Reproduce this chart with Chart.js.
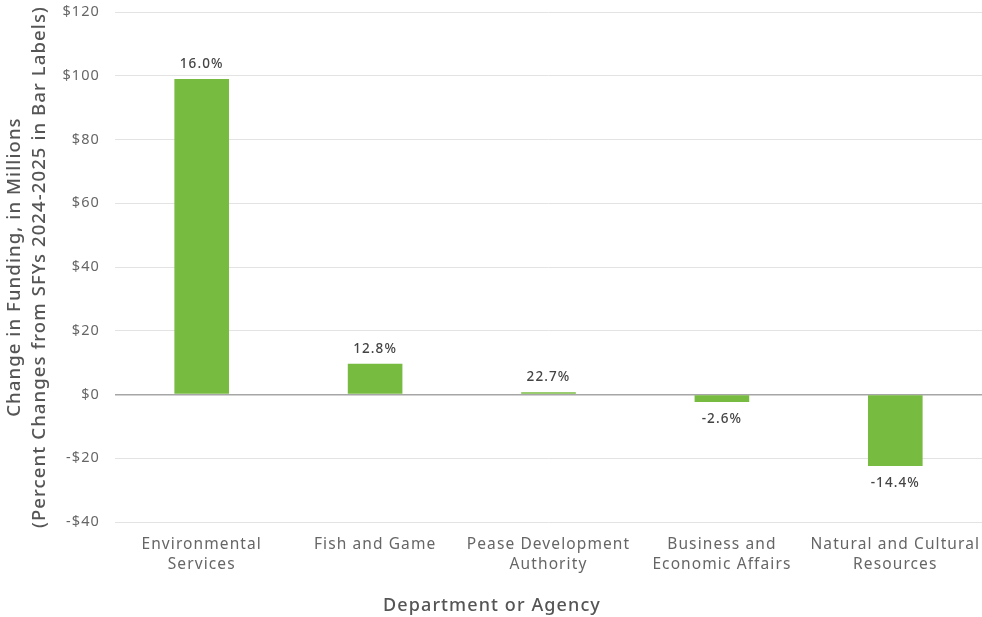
<!DOCTYPE html>
<html>
<head>
<meta charset="utf-8">
<script src="https://cdn.jsdelivr.net/npm/chart.js@4/dist/chart.umd.min.js"></script>
<style>
  html, body { margin: 0; padding: 0; background: #fff; }
  #wrap { width: 982px; height: 617px; position: relative; }
</style>
</head>
<body>
<div id="wrap"><canvas id="c" width="982" height="617"></canvas></div>
<script>
const categories = [
  ["Environmental", "Services"],
  ["Fish and Game"],
  ["Pease Development", "Authority"],
  ["Business and", "Economic Affairs"],
  ["Natural and Cultural", "Resources"]
];
const changeMillions = [99.0, 9.7, 0.7, -2.3, -22.4];
const percentLabels = ["16.0%", "12.8%", "22.7%", "-2.6%", "-14.4%"];
const yTicks = [-40, -20, 0, 20, 40, 60, 80, 100, 120];

const FONT = "'Noto Sans', 'Open Sans', sans-serif";
const SPACING = '1.1px';

const spacingPlugin = {
  id: 'spacing',
  beforeLayout(chart) { chart.ctx.letterSpacing = SPACING; },
  beforeDraw(chart) { chart.ctx.letterSpacing = SPACING; }
};

const barLabelPlugin = {
  id: 'barLabels',
  afterDatasetsDraw(chart) {
    const ctx = chart.ctx;
    const meta = chart.getDatasetMeta(0);
    ctx.save();
    ctx.letterSpacing = SPACING;
    ctx.font = "500 13.5px " + FONT;
    ctx.fillStyle = "#444";
    ctx.textAlign = "center";
    meta.data.forEach((bar, i) => {
      const v = changeMillions[i];
      if (v >= 0) {
        ctx.textBaseline = "bottom";
        ctx.fillText(percentLabels[i], bar.x, bar.y - 8);
      } else {
        ctx.textBaseline = "top";
        ctx.fillText(percentLabels[i], bar.x, bar.y + 10);
      }
    });
    ctx.restore();
  }
};

new Chart(document.getElementById('c'), {
  type: 'bar',
  data: {
    labels: categories,
    datasets: [{
      data: changeMillions,
      backgroundColor: '#77bc41',
      borderWidth: 0,
      barPercentage: 0.63,
      categoryPercentage: 0.5
    }]
  },
  options: {
    responsive: false,
    animation: false,
    layout: { padding: { top: 12, right: 0, bottom: 0, left: 2 } },
    plugins: {
      legend: { display: false },
      tooltip: { enabled: false },
      title: {
        display: true, position: 'bottom', text: 'Department or Agency',
        color: '#555', font: { family: FONT, size: 18, weight: '500' },
        padding: { top: 9, bottom: 0 }
      }
    },
    scales: {
      x: {
        afterFit(scale) { scale.paddingLeft = 0; scale.paddingRight = 0; },
        grid: { display: false, drawTicks: false },
        border: { display: false },
        ticks: { color: '#666', font: { family: FONT, size: 15.5, lineHeight: 1.3 }, padding: 12, maxRotation: 0, autoSkip: false },
        title: { display: false }
      },
      y: {
        min: -40, max: 120,
        afterBuildTicks(axis) { axis.ticks = yTicks.map(v => ({ value: v })); },
        afterFit(scale) { scale.width = 113; scale.paddingTop = 0; scale.paddingBottom = 0; },
        grid: {
          drawTicks: false,
          color: ctx => ctx.tick && ctx.tick.value === 0 ? '#a6a6a6' : '#e3e3e3',
          lineWidth: ctx => ctx.tick && ctx.tick.value === 0 ? 1.5 : 1
        },
        border: { display: false },
        ticks: {
          color: '#666', font: { family: FONT, size: 14.5 }, padding: 15,
          callback: v => (v < 0 ? '-$' + Math.abs(v) : '$' + v)
        },
        title: {
          display: true,
          text: ['Change in Funding, in Millions', '(Percent Changes from SFYs 2024-2025 in Bar Labels)'],
          color: '#555', font: { family: FONT, size: 18.5, weight: '500', lineHeight: 1.35 }, padding: { top: 0, bottom: 8 }
        }
      }
    }
  },
  plugins: [spacingPlugin, barLabelPlugin]
});
</script>
</body>
</html>
